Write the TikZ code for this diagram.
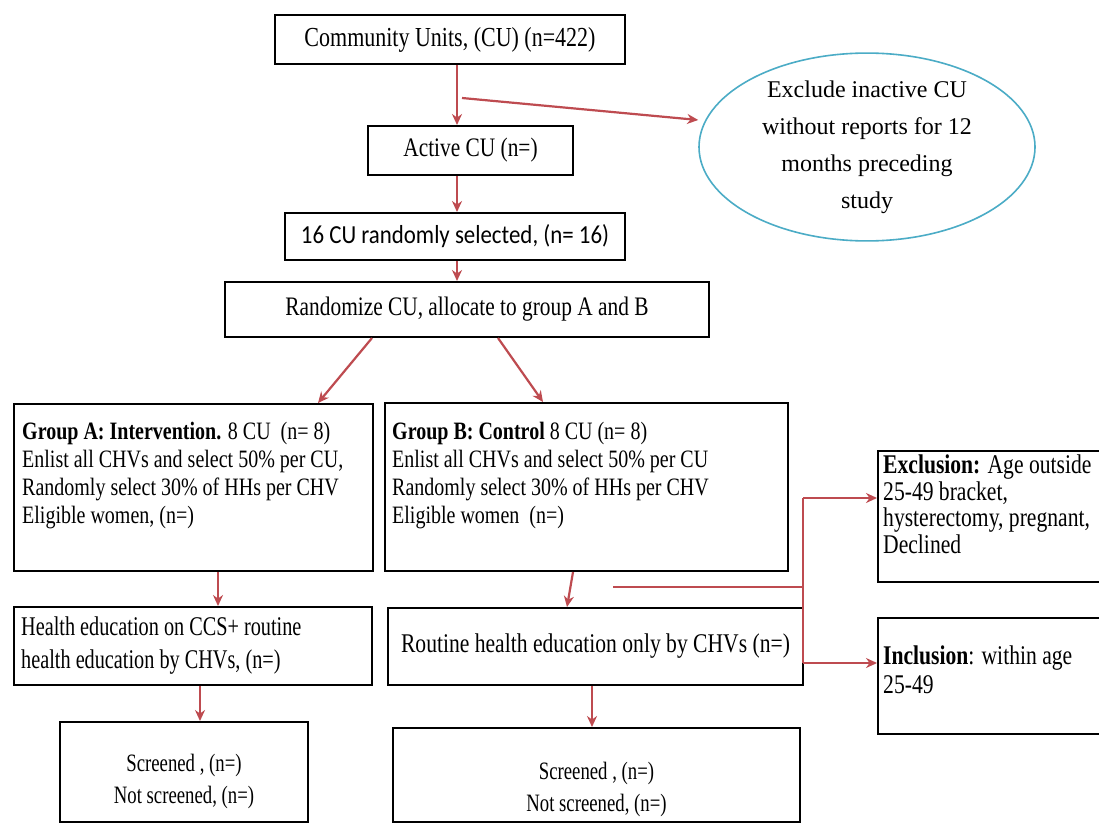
\documentclass[tikz,border=0pt]{standalone}
\usepackage{fontspec}
\setmainfont{Liberation Serif}[FakeStretch=0.8]
\newfontfamily\ellfont{Liberation Serif}
\newfontfamily\condfont{Liberation Serif}[FakeStretch=0.75]
\newfontfamily\calfont{Carlito}[FakeStretch=0.88]
\usetikzlibrary{arrows.meta,shapes.geometric}
\definecolor{arrred}{RGB}{190,75,80}
\definecolor{ellblue}{RGB}{75,172,198}
\newcommand\myfcu{\fontsize{27.5}{30}\selectfont}
\newcommand\myfbig{\fontsize{26.7}{30}\selectfont}
\newcommand\myfgrp{\fontsize{25}{28}\selectfont}
\newcommand\myfhe{\condfont\fontsize{27}{33}\selectfont}
\newcommand\myfrt{\fontsize{27}{30}\selectfont}
\newcommand\myfscr{\condfont\fontsize{25}{32}\selectfont}
\newcommand\myfex{\fontsize{27}{26.5}\selectfont}
\newcommand\myfin{\fontsize{27}{29}\selectfont}
\newcommand\myfell{\ellfont\fontsize{24}{37}\selectfont}
\begin{document}
\begin{tikzpicture}[x=1pt,y=-1pt,
  box/.style={draw=black,line width=2pt,inner sep=0pt,fill=white},
  arr/.style={draw=arrred,line width=2.2pt,-{Stealth[length=11pt,width=10pt]}},
  lin/.style={draw=arrred,line width=2.2pt},
  txt/.style={inner sep=0pt,align=left}]
\fill[white] (0,0) rectangle (1099,824);
\useasboundingbox (0,0) rectangle (1099,824);

% boxes
\node[box,minimum width=350pt,minimum height=49pt,font=\myfcu] (cu) at (450,39.5) {Community Units, (CU) (n=422)};
\node[box,minimum width=205pt,minimum height=49pt,font=\myfbig] (act) at (470.5,150.5) {Active CU (n=)};
\node[box,minimum width=340pt,minimum height=47pt,font=\calfont\fontsize{26}{30}\selectfont] (c16) at (455,236.5) {16 CU randomly selected, (n= 16)};
\node[box,minimum width=484pt,minimum height=55pt,font=\myfbig] (rand) at (467,309.5) {Randomize CU, allocate to group A and B};

\node[box,minimum width=359pt,minimum height=167pt] (ga) at (193.5,487.5) {};
\node[txt,anchor=north west,font=\myfgrp] (gat) at ([xshift=9pt,yshift=-19pt]ga.north west)
  {\textbf{Group A: Intervention.} 8 CU~~(n= 8)\\
   Enlist all CHVs and select 50\% per CU,\\
   Randomly select 30\% of HHs per CHV\\
   Eligible women, (n=)};

\node[box,minimum width=403pt,minimum height=168pt] (gb) at (586.5,487) {};
\node[txt,anchor=north west,font=\myfgrp] (gbt) at ([xshift=8pt,yshift=-20pt]gb.north west)
  {\textbf{Group B: Control} 8 CU (n= 8)\\
   Enlist all CHVs and select 50\% per CU\\
   Randomly select 30\% of HHs per CHV\\
   Eligible women~~(n=)};

\node[box,minimum width=232pt,minimum height=131pt] (ex) at (994,516.5) {};
\node[txt,anchor=north west,font=\myfex] (ext) at ([xshift=6pt,yshift=-5pt]ex.north west)
  {\textbf{Exclusion:} Age outside\\
   25-49 bracket,\\
   hysterectomy, pregnant,\\
   Declined};

\node[box,minimum width=232pt,minimum height=116pt] (inc) at (994,676) {};
\node[txt,anchor=north west,font=\myfin] (inct) at ([xshift=6pt,yshift=-29pt]inc.north west)
  {\textbf{Inclusion}: within age\\
   25-49};

\node[box,minimum width=358pt,minimum height=78pt] (ha) at (193,646) {};
\node[txt,anchor=west,font=\myfhe] (hat) at ([xshift=8pt]ha.west)
  {Health education on CCS+ routine\\health education by CHVs, (n=)};
\node[box,minimum width=415pt,minimum height=77pt,font=\myfrt] (rt) at (595.5,646.5)
  {Routine health education only by CHVs (n=)};

\node[box,minimum width=248pt,minimum height=100pt] (sa) at (184,772) {};
\node[txt,align=center,font=\myfscr] (sat) at ([yshift=-9pt]sa.center) {Screened , (n=)\\Not screened, (n=)};
\node[box,minimum width=407pt,minimum height=94pt] (sb) at (596.5,775) {};
\node[txt,align=center,font=\myfscr] (sbt) at ([yshift=-14pt]sb.center) {Screened , (n=)\\Not screened, (n=)};

\node[ellipse,draw=ellblue,line width=1.6pt,minimum width=336pt,minimum height=180pt,inner sep=0pt,align=center,font=\myfell] (ell) at (867,147)
  {Exclude inactive CU\\without reports for 12\\months preceding\\study};

% connectors
\draw[arr] ([xshift=7pt]cu.south) -- ([xshift=-13.5pt]act.north);
\coordinate (sidestart) at (462,98);
\draw[arr] (sidestart) -- ([yshift=27pt]ell.west);
\draw[arr] ([xshift=-13.5pt]act.south) -- ([xshift=2pt]c16.north);
\draw[arr] ([xshift=2pt]c16.south) -- ([xshift=-10pt]rand.north);
\draw[arr] ([xshift=-95pt]rand.south) -- ([xshift=124.5pt]ga.north);
\draw[arr] ([xshift=31pt]rand.south) -- ([xshift=-43.5pt]gb.north);
\draw[arr] ([xshift=24.5pt]ga.south) -- ([xshift=25pt]ha.north);
\draw[arr] ([xshift=-13.5pt]gb.south) -- ([xshift=-28.5pt]rt.north);
\draw[arr] ([xshift=7pt]ha.south) -- ([xshift=16pt]sa.north);
\draw[arr] ([xshift=-3.5pt]rt.south) -- ([xshift=-4.5pt]sb.north);

\coordinate (bt) at (803,498);
\coordinate (bb) at (803,663);
\coordinate (bh) at (613,587);
\coordinate (bj) at (803,587);
\draw[lin] (bh) -- (bj);
\draw[lin] (bt) -- (bb);
\draw[arr] (bt) -- (ex.west |- bt);
\draw[arr] (bb) -- (inc.west |- bb);
\end{tikzpicture}
\end{document}
